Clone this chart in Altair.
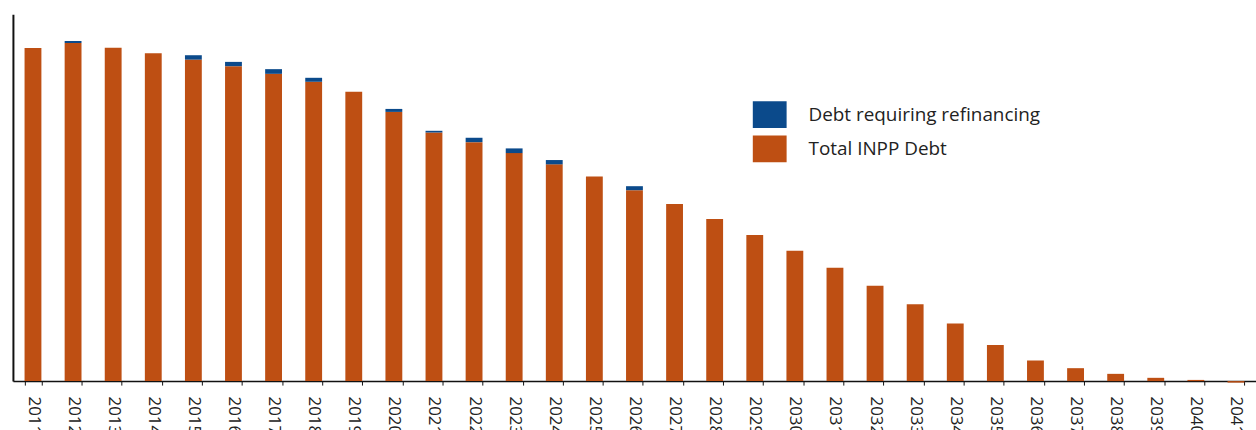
import altair as alt
import pandas as pd

years = [str(y) for y in range(2011, 2042)]
# Total INPP debt (orange part), arbitrary units
total_debt = [335, 340, 335.3, 329.7, 323.3, 316.7, 309, 301, 291, 270.7,
              250, 240.3, 229.3, 218, 205.7, 192, 178, 163, 147, 131,
              114, 96, 77.3, 58, 36.3, 20.7, 13, 7.3, 3.3, 1.2, -1.5]
# Debt requiring refinancing (blue cap)
refinancing = [0, 2, 0, 0, 4.4, 4.3, 4.7, 4, 0, 3,
               1.7, 4.4, 4.7, 4.3, 0, 4, 0, 0, 0, 0,
               0, 0, 0, 0, 0, 0, 0, 0, 0, 0, 0]

series_names = ["Debt requiring refinancing", "Total INPP Debt"]
series_colors = ["#0B4A8B", "#BE4F13"]

rows = []
for y, t, r in zip(years, total_debt, refinancing):
    rows.append({"year": y, "series": "Total INPP Debt", "value": t, "ord": 1})
    rows.append({"year": y, "series": "Debt requiring refinancing", "value": r, "ord": 2})
df = pd.DataFrame(rows)

chart = alt.Chart(df).mark_bar().encode(
    x=alt.X("year:O", sort=years,
            scale=alt.Scale(paddingInner=0.58, paddingOuter=0.29, round=False),
            axis=alt.Axis(title=None, labelAngle=90, labelAlign="left",
                          labelBaseline="middle", labelPadding=11,
                          labelFont="Open Sans", labelFontSize=17,
                          labelColor="#222", tickBand="extent", tickSize=4,
                          tickColor="#111", domainColor="#111", domainWidth=1.5,
                          labelOverlap=False)),
    y=alt.Y("value:Q", stack="zero",
            scale=alt.Scale(domain=[0, 369], nice=False, zero=True),
            axis=alt.Axis(title=None, labels=False, ticks=False, grid=False,
                          domainColor="#111", domainWidth=2)),
    color=alt.Color("series:N",
                    scale=alt.Scale(domain=series_names, range=series_colors),
                    legend=alt.Legend(title=None, orient="none", legendX=744, legendY=84,
                                      symbolType="M-1,-0.79L1,-0.79L1,0.79L-1,0.79Z",
                                      symbolSize=1156, symbolStrokeWidth=0,
                                      symbolOpacity=1,
                                      labelFont="Open Sans", labelFontSize=19,
                                      labelColor="#222", labelOffset=22,
                                      rowPadding=3.5, labelLimit=400)),
    order=alt.Order("ord:Q"),
).properties(
    width=1250, height=369,
    padding={"left": 13, "top": 13, "right": 0, "bottom": 60},
    autosize=alt.AutoSizeParams(type="none"),
).configure_view(stroke=None)

chart.save("out.html", embed_options={"renderer": "svg", "actions": False})
